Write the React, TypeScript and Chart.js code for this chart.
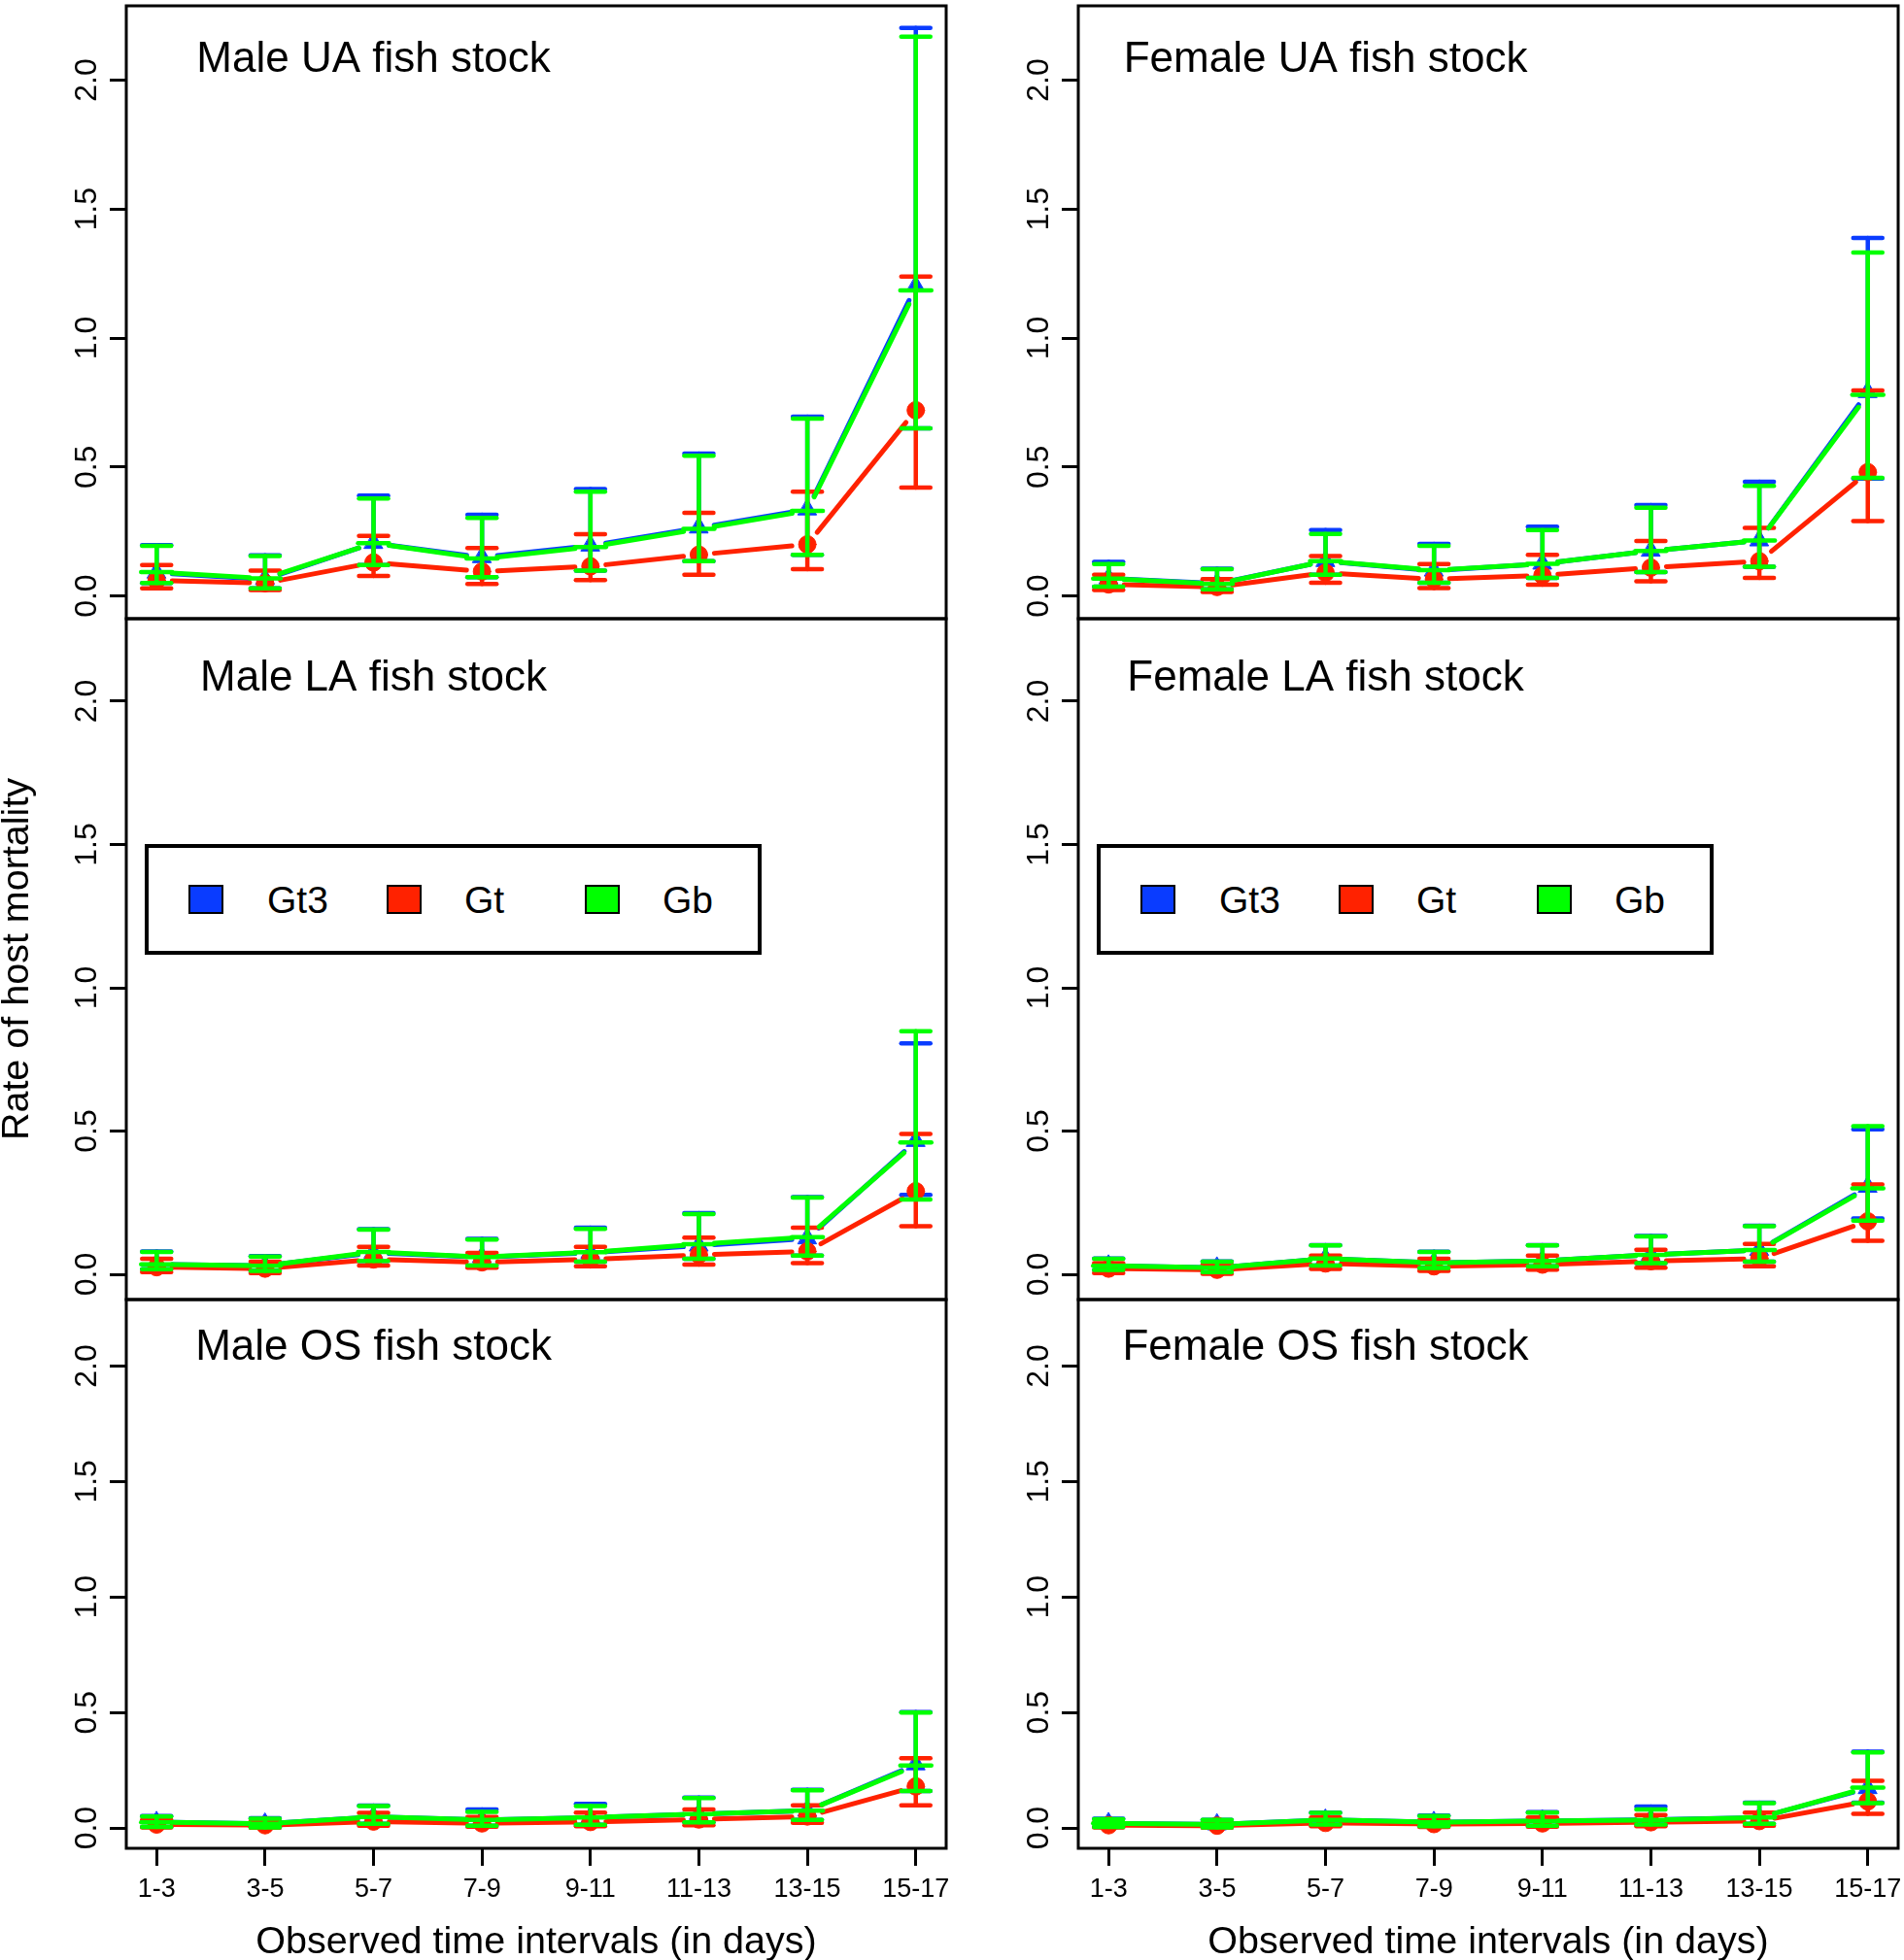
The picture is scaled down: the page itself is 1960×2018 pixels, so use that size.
import React, { useEffect, useRef } from 'react';
import { Chart, registerables } from 'chart.js';

Chart.register(...registerables);
Chart.defaults.font.family = '"Liberation Sans", Arial, sans-serif';
Chart.defaults.color = '#000';

// ---------------- DATA ----------------
const categories = ['1-3', '3-5', '5-7', '7-9', '9-11', '11-13', '13-15', '15-17'];
const yTickValues = [0, 0.5, 1, 1.5, 2];
const seriesNames = ['Gt3', 'Gt', 'Gb'];
const seriesColors = ['#0A3CFF', '#FF2200', '#00FF00'];
const panelTitles = [
  'Male UA fish stock', 'Female UA fish stock',
  'Male LA fish stock', 'Female LA fish stock',
  'Male OS fish stock', 'Female OS fish stock',
];
const yAxisTitle = 'Rate of host mortality';
const xAxisTitle = 'Observed time intervals (in days)';

// Male UA
const maleUA_Gt3_mean = [0.09, 0.065, 0.205, 0.15, 0.195, 0.265, 0.335, 1.2];
const maleUA_Gt3_lo = [0.05, 0.03, 0.12, 0.073, 0.098, 0.135, 0.16, 0.65];
const maleUA_Gt3_hi = [0.197, 0.158, 0.389, 0.315, 0.415, 0.552, 0.695, 2.202];
const maleUA_Gt_mean = [0.06, 0.05, 0.13, 0.095, 0.115, 0.16, 0.2, 0.72];
const maleUA_Gt_lo = [0.03, 0.023, 0.078, 0.047, 0.062, 0.082, 0.104, 0.42];
const maleUA_Gt_hi = [0.12, 0.098, 0.233, 0.186, 0.24, 0.322, 0.404, 1.238];
const maleUA_Gb_mean = [0.093, 0.068, 0.205, 0.145, 0.19, 0.26, 0.33, 1.185];
const maleUA_Gb_lo = [0.05, 0.03, 0.12, 0.073, 0.098, 0.135, 0.16, 0.65];
const maleUA_Gb_hi = [0.194, 0.155, 0.378, 0.303, 0.404, 0.544, 0.688, 2.168];

// Female UA
const femaleUA_Gt3_mean = [0.068, 0.048, 0.135, 0.098, 0.125, 0.175, 0.215, 0.79];
const femaleUA_Gt3_lo = [0.036, 0.026, 0.082, 0.051, 0.07, 0.093, 0.113, 0.455];
const femaleUA_Gt3_hi = [0.132, 0.106, 0.256, 0.202, 0.269, 0.353, 0.443, 1.388];
const femaleUA_Gt_mean = [0.045, 0.035, 0.09, 0.065, 0.08, 0.11, 0.135, 0.48];
const femaleUA_Gt_lo = [0.023, 0.016, 0.051, 0.031, 0.044, 0.057, 0.07, 0.29];
const femaleUA_Gt_hi = [0.082, 0.065, 0.155, 0.124, 0.16, 0.213, 0.264, 0.797];
const femaleUA_Gb_mean = [0.067, 0.047, 0.135, 0.1, 0.125, 0.175, 0.215, 0.78];
const femaleUA_Gb_lo = [0.036, 0.026, 0.082, 0.051, 0.07, 0.093, 0.113, 0.458];
const femaleUA_Gb_hi = [0.124, 0.104, 0.241, 0.194, 0.256, 0.342, 0.427, 1.332];

// Male LA
const maleLA_Gt3_mean = [0.035, 0.03, 0.075, 0.06, 0.075, 0.1, 0.125, 0.465];
const maleLA_Gt3_lo = [0.018, 0.012, 0.047, 0.031, 0.044, 0.054, 0.065, 0.277];
const maleLA_Gt3_hi = [0.08, 0.064, 0.158, 0.124, 0.163, 0.214, 0.27, 0.806];
const maleLA_Gt_mean = [0.025, 0.02, 0.052, 0.042, 0.052, 0.068, 0.08, 0.29];
const maleLA_Gt_lo = [0.008, 0.004, 0.031, 0.023, 0.028, 0.034, 0.039, 0.168];
const maleLA_Gt_hi = [0.054, 0.044, 0.096, 0.075, 0.096, 0.128, 0.163, 0.49];
const maleLA_Gb_mean = [0.035, 0.03, 0.078, 0.06, 0.077, 0.105, 0.13, 0.46];
const maleLA_Gb_lo = [0.018, 0.012, 0.047, 0.031, 0.044, 0.054, 0.065, 0.261];
const maleLA_Gb_hi = [0.078, 0.062, 0.156, 0.121, 0.159, 0.21, 0.268, 0.848];

// Female LA
const femaleLA_Gt3_mean = [0.03, 0.023, 0.055, 0.04, 0.047, 0.068, 0.085, 0.305];
const femaleLA_Gt3_lo = [0.015, 0.008, 0.031, 0.022, 0.028, 0.039, 0.044, 0.195];
const femaleLA_Gt3_hi = [0.055, 0.045, 0.102, 0.079, 0.102, 0.134, 0.17, 0.506];
const femaleLA_Gt_mean = [0.02, 0.016, 0.038, 0.028, 0.034, 0.046, 0.055, 0.185];
const femaleLA_Gt_lo = [0.004, 0.002, 0.019, 0.012, 0.016, 0.023, 0.028, 0.117];
const femaleLA_Gt_hi = [0.039, 0.034, 0.065, 0.054, 0.065, 0.086, 0.106, 0.314];
const femaleLA_Gb_mean = [0.03, 0.023, 0.055, 0.04, 0.047, 0.068, 0.085, 0.3];
const femaleLA_Gb_lo = [0.015, 0.008, 0.031, 0.022, 0.028, 0.039, 0.044, 0.187];
const femaleLA_Gb_hi = [0.054, 0.044, 0.101, 0.078, 0.101, 0.132, 0.168, 0.517];

// Male OS
const maleOS_Gt3_mean = [0.025, 0.018, 0.048, 0.035, 0.045, 0.06, 0.075, 0.275];
const maleOS_Gt3_lo = [0.005, 0.002, 0.018, 0.01, 0.014, 0.025, 0.035, 0.16];
const maleOS_Gt3_hi = [0.052, 0.042, 0.097, 0.08, 0.104, 0.132, 0.165, 0.502];
const maleOS_Gt_mean = [0.015, 0.012, 0.028, 0.02, 0.026, 0.037, 0.05, 0.18];
const maleOS_Gt_lo = [0.002, 0.001, 0.01, 0.006, 0.008, 0.012, 0.022, 0.098];
const maleOS_Gt_hi = [0.035, 0.03, 0.065, 0.048, 0.067, 0.08, 0.098, 0.302];
const maleOS_Gb_mean = [0.025, 0.018, 0.048, 0.035, 0.045, 0.06, 0.075, 0.27];
const maleOS_Gb_lo = [0.005, 0.002, 0.018, 0.01, 0.014, 0.025, 0.035, 0.16];
const maleOS_Gb_hi = [0.05, 0.04, 0.095, 0.07, 0.095, 0.13, 0.163, 0.5];

// Female OS
const femaleOS_Gt3_mean = [0.02, 0.015, 0.035, 0.025, 0.03, 0.036, 0.045, 0.172];
const femaleOS_Gt3_lo = [0.005, 0.002, 0.015, 0.008, 0.01, 0.015, 0.018, 0.11];
const femaleOS_Gt3_hi = [0.04, 0.035, 0.067, 0.054, 0.069, 0.093, 0.11, 0.33];
const femaleOS_Gt_mean = [0.012, 0.01, 0.022, 0.017, 0.02, 0.025, 0.03, 0.115];
const femaleOS_Gt_lo = [0.002, 0.001, 0.008, 0.005, 0.006, 0.008, 0.01, 0.061];
const femaleOS_Gt_hi = [0.025, 0.022, 0.045, 0.035, 0.045, 0.056, 0.067, 0.204];
const femaleOS_Gb_mean = [0.02, 0.015, 0.035, 0.025, 0.03, 0.035, 0.045, 0.175];
const femaleOS_Gb_lo = [0.005, 0.002, 0.015, 0.008, 0.01, 0.015, 0.018, 0.108];
const femaleOS_Gb_hi = [0.038, 0.035, 0.065, 0.052, 0.067, 0.08, 0.108, 0.327];

type Series = { mean: number[]; lo: number[]; hi: number[] };

const panelSeries: Series[][] = [
  [
    { mean: maleUA_Gt3_mean, lo: maleUA_Gt3_lo, hi: maleUA_Gt3_hi },
    { mean: maleUA_Gt_mean, lo: maleUA_Gt_lo, hi: maleUA_Gt_hi },
    { mean: maleUA_Gb_mean, lo: maleUA_Gb_lo, hi: maleUA_Gb_hi },
  ],
  [
    { mean: femaleUA_Gt3_mean, lo: femaleUA_Gt3_lo, hi: femaleUA_Gt3_hi },
    { mean: femaleUA_Gt_mean, lo: femaleUA_Gt_lo, hi: femaleUA_Gt_hi },
    { mean: femaleUA_Gb_mean, lo: femaleUA_Gb_lo, hi: femaleUA_Gb_hi },
  ],
  [
    { mean: maleLA_Gt3_mean, lo: maleLA_Gt3_lo, hi: maleLA_Gt3_hi },
    { mean: maleLA_Gt_mean, lo: maleLA_Gt_lo, hi: maleLA_Gt_hi },
    { mean: maleLA_Gb_mean, lo: maleLA_Gb_lo, hi: maleLA_Gb_hi },
  ],
  [
    { mean: femaleLA_Gt3_mean, lo: femaleLA_Gt3_lo, hi: femaleLA_Gt3_hi },
    { mean: femaleLA_Gt_mean, lo: femaleLA_Gt_lo, hi: femaleLA_Gt_hi },
    { mean: femaleLA_Gb_mean, lo: femaleLA_Gb_lo, hi: femaleLA_Gb_hi },
  ],
  [
    { mean: maleOS_Gt3_mean, lo: maleOS_Gt3_lo, hi: maleOS_Gt3_hi },
    { mean: maleOS_Gt_mean, lo: maleOS_Gt_lo, hi: maleOS_Gt_hi },
    { mean: maleOS_Gb_mean, lo: maleOS_Gb_lo, hi: maleOS_Gb_hi },
  ],
  [
    { mean: femaleOS_Gt3_mean, lo: femaleOS_Gt3_lo, hi: femaleOS_Gt3_hi },
    { mean: femaleOS_Gt_mean, lo: femaleOS_Gt_lo, hi: femaleOS_Gt_hi },
    { mean: femaleOS_Gb_mean, lo: femaleOS_Gb_lo, hi: femaleOS_Gb_hi },
  ],
];

// ---------------- STYLE / LAYOUT ----------------
const X_MIN = 0.72;
const X_MAX = 8.28;
const Y_MIN = -0.088;
const Y_MAX = 2.288;
const TITLE_X = 3;
const TITLE_Y = 2.077;
const LINE_GAP = 16;

const markerStyles = ['triangle', 'circle', 'line'];
const markerRadius = [11, 9, 16];
const markerBorder = [1, 1, 4.5];

const COLS = [
  { x: 0, w: 990, padRight: 16 },
  { x: 980, w: 980, padRight: 6 },
];
const ROWS = [
  { y: 0, h: 650, padTop: 6, padBottom: 13 },
  { y: 625, h: 725, padTop: 12, padBottom: 12 },
  { y: 1326, h: 692, padTop: 12, padBottom: 0 },
];
const Y_AXIS_W = 130;
const X_AXIS_H = 115;

const framePlugin = {
  id: 'frame',
  beforeDatasetsDraw(chart: any) {
    const { ctx, chartArea: a } = chart;
    ctx.save();
    ctx.strokeStyle = '#000';
    ctx.lineWidth = 3;
    ctx.strokeRect(a.left, a.top, a.right - a.left, a.bottom - a.top);
    ctx.restore();
  },
};

// Connects each series' points like R's type = "b": segments stop short of the markers.
const gapLinePlugin = {
  id: 'gapLines',
  beforeDatasetDraw(chart: any, args: any) {
    const ctx = chart.ctx;
    const ds = chart.data.datasets[args.index];
    if (ds.gapLine) {
      const pts = args.meta.data;
      ctx.save();
      ctx.strokeStyle = ds.borderColor;
      ctx.lineWidth = ds.borderWidth;
      ctx.lineCap = 'round';
      for (let i = 0; i < pts.length - 1; i++) {
        const a = pts[i];
        const b = pts[i + 1];
        const dx = b.x - a.x;
        const dy = b.y - a.y;
        const len = Math.hypot(dx, dy);
        if (len <= 2 * LINE_GAP) continue;
        const ux = dx / len;
        const uy = dy / len;
        ctx.beginPath();
        ctx.moveTo(a.x + ux * LINE_GAP, a.y + uy * LINE_GAP);
        ctx.lineTo(b.x - ux * LINE_GAP, b.y - uy * LINE_GAP);
        ctx.stroke();
      }
      ctx.restore();
    }
    ctx.lineCap = 'round';
  },
};

const titlePlugin = {
  id: 'panelTitle',
  afterDatasetsDraw(chart: any, _args: any, opts: any) {
    const { ctx } = chart;
    const x = chart.scales.x.getPixelForValue(TITLE_X);
    const y = chart.scales.y.getPixelForValue(TITLE_Y);
    ctx.save();
    ctx.fillStyle = '#000';
    ctx.font = '44px "Liberation Sans", Arial, sans-serif';
    ctx.textAlign = 'center';
    ctx.textBaseline = 'middle';
    ctx.fillText(opts.text, x, y);
    ctx.restore();
  },
};

function buildDatasets(series: Series[]) {
  const ds: any[] = [];
  series.forEach((s, k) => {
    const color = seriesColors[k];
    const base = (3 - k) * 10;
    ds.push({
      type: 'line',
      label: seriesNames[k],
      data: s.mean.map((v, i) => ({ x: i + 1, y: v })),
      gapLine: true,
      showLine: false,
      borderColor: color,
      backgroundColor: color,
      borderWidth: 5,
      pointStyle: markerStyles[k],
      pointRadius: markerRadius[k],
      pointBackgroundColor: color,
      pointBorderColor: color,
      pointBorderWidth: markerBorder[k],
      order: base + 2,
    });
    const whisk: any[] = [];
    s.lo.forEach((lo, i) => {
      whisk.push({ x: i + 1, y: lo }, { x: i + 1, y: s.hi[i] }, { x: i + 1, y: null });
    });
    ds.push({
      type: 'line',
      data: whisk,
      borderColor: color,
      borderWidth: 4.5,
      borderCapStyle: 'round',
      pointRadius: 0,
      spanGaps: false,
      order: base + 1,
    });
    const caps: any[] = [];
    s.lo.forEach((lo, i) => {
      caps.push({ x: i + 1, y: lo }, { x: i + 1, y: s.hi[i] });
    });
    ds.push({
      type: 'line',
      data: caps,
      showLine: false,
      pointStyle: 'line',
      pointRadius: 15,
      pointBorderWidth: 4.5,
      pointBorderColor: color,
      pointBackgroundColor: color,
      order: base,
    });
  });
  return ds;
}

function Panel({ index }: { index: number }) {
  const ref = useRef<HTMLCanvasElement>(null);
  const col = COLS[index % 2];
  const row = ROWS[Math.floor(index / 2)];
  const isBottom = Math.floor(index / 2) === 2;
  const showYTitle = index === 2;

  useEffect(() => {
    const chart = new Chart(ref.current as HTMLCanvasElement, {
      type: 'line',
      data: { datasets: buildDatasets(panelSeries[index]) },
      plugins: [framePlugin, gapLinePlugin, titlePlugin],
      options: {
        animation: false,
        responsive: false,
        maintainAspectRatio: false,
        devicePixelRatio: 1,
        events: [],
        layout: {
          autoPadding: false,
          padding: { left: 0, right: col.padRight, top: row.padTop, bottom: row.padBottom },
        },
        plugins: {
          legend: { display: false },
          tooltip: { enabled: false },
          panelTitle: { text: panelTitles[index] },
        } as any,
        scales: {
          x: {
            type: 'linear',
            min: X_MIN,
            max: X_MAX,
            display: isBottom,
            afterBuildTicks: (s: any) => {
              s.ticks = categories.map((_, i) => ({ value: i + 1 }));
            },
            afterFit: (s: any) => {
              if (isBottom) s.height = X_AXIS_H;
              s.paddingLeft = 0;
              s.paddingRight = 0;
              s.paddingTop = 0;
              s.paddingBottom = 0;
            },
            ticks: {
              autoSkip: false,
              maxRotation: 0,
              minRotation: 0,
              padding: 8,
              color: '#000',
              font: { size: 27 },
              callback: (v: any) => categories[Math.round(v) - 1],
            },
            grid: { drawOnChartArea: false, drawTicks: true, tickLength: 18, tickWidth: 3, color: '#000' },
            border: { display: false },
            title: {
              display: true,
              text: xAxisTitle,
              color: '#000',
              font: { size: 39.5, lineHeight: 1 },
              padding: { top: 0, bottom: -2 },
            },
          },
          y: {
            type: 'linear',
            min: Y_MIN,
            max: Y_MAX,
            afterBuildTicks: (s: any) => {
              s.ticks = yTickValues.map((v) => ({ value: v }));
            },
            afterFit: (s: any) => {
              s.width = Y_AXIS_W;
              s.paddingTop = 0;
              s.paddingBottom = 0;
              s.paddingLeft = 0;
              s.paddingRight = 0;
            },
            ticks: {
              padding: 1,
              color: '#000',
              font: { size: 32 },
              minRotation: 90,
              maxRotation: 90,
              crossAlign: 'center',
              callback: (v: any) => Number(v).toFixed(1),
            },
            grid: { drawOnChartArea: false, drawTicks: true, tickLength: 17, tickWidth: 3, color: '#000' },
            border: { display: false },
            title: {
              display: showYTitle,
              text: yAxisTitle,
              color: '#000',
              font: { size: 39.5, lineHeight: 0.9 },
              padding: { top: 0, bottom: 0 },
            },
          },
        },
      } as any,
    });
    return () => chart.destroy();
  }, []);

  return (
    <canvas
      ref={ref}
      width={col.w}
      height={row.h}
      style={{ position: 'absolute', left: col.x, top: row.y, width: col.w, height: row.h }}
    />
  );
}

const LEGEND_LEFTS = [149, 1129];
const LEGEND_TOP = 869;
const LEGEND_W = 635;
const LEGEND_H = 114;
const LEGEND_ITEM_SQUARE_X = [45, 249, 453];
const LEGEND_ITEM_TEXT_X = [126, 329, 533];
const LEGEND_CENTER_Y = 926;

function Legend({ left }: { left: number }) {
  return (
    <>
      <div
        style={{
          position: 'absolute',
          left,
          top: LEGEND_TOP,
          width: LEGEND_W,
          height: LEGEND_H,
          border: '4px solid #000',
          boxSizing: 'border-box',
          background: '#fff',
        }}
      />
      {seriesNames.map((name, k) => (
        <React.Fragment key={name}>
          <div
            style={{
              position: 'absolute',
              left: left + LEGEND_ITEM_SQUARE_X[k],
              top: LEGEND_CENTER_Y - 15,
              width: 36,
              height: 30,
              background: seriesColors[k],
              border: '2px solid #000',
              boxSizing: 'border-box',
            }}
          />
          <div
            style={{
              position: 'absolute',
              left: left + LEGEND_ITEM_TEXT_X[k],
              top: LEGEND_CENTER_Y - 19,
              fontFamily: '"Liberation Sans", Arial, sans-serif',
              fontSize: 39,
              lineHeight: '39px',
              color: '#000',
              whiteSpace: 'nowrap',
            }}
          >
            {name}
          </div>
        </React.Fragment>
      ))}
    </>
  );
}

export default function App() {
  return (
    <div
      style={{
        position: 'absolute',
        left: 0,
        top: 0,
        width: 1960,
        height: 2018,
        background: '#fff',
        overflow: 'hidden',
      }}
    >
      {panelTitles.map((t, i) => (
        <Panel key={t} index={i} />
      ))}
      {LEGEND_LEFTS.map((l) => (
        <Legend key={l} left={l} />
      ))}
    </div>
  );
}
